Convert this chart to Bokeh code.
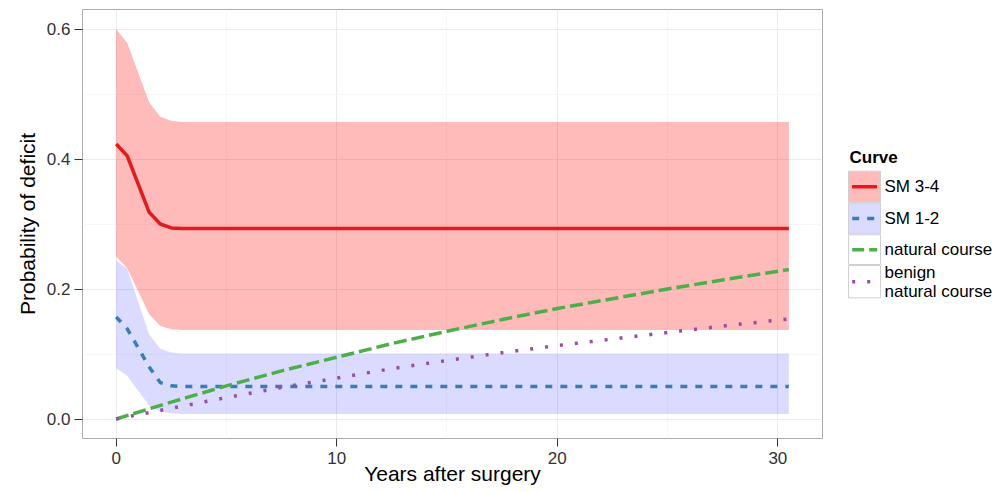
from bokeh.plotting import figure
from bokeh.models import Range1d, FixedTicker, PrintfTickFormatter
from bokeh.layouts import row
from bokeh.embed import file_html
from bokeh.resources import INLINE
from bokeh.core.properties import value

# ---------------- data ----------------
t_sm = [0, 0.5, 1.5, 2, 2.5, 3, 30.5]
sm34 = [0.423, 0.405, 0.318, 0.300, 0.294, 0.293, 0.293]
sm34_lo = [0.250, 0.232, 0.161, 0.143, 0.138, 0.137, 0.137]
sm34_hi = [0.600, 0.579, 0.487, 0.465, 0.459, 0.457, 0.457]
sm12 = [0.157, 0.139, 0.080, 0.056, 0.051, 0.050, 0.050]
sm12_lo = [0.078, 0.0665, 0.0204, 0.0113, 0.0087, 0.0077, 0.0077]
sm12_hi = [0.244, 0.231, 0.130, 0.1085, 0.1024, 0.1008, 0.1008]

t_nat = [0, 2.5, 5, 7.5, 10, 12.5, 15, 17.5, 20, 22.5, 25, 27.5, 30.5]
natural = [0, 0.026, 0.051, 0.074, 0.095, 0.116, 0.135, 0.153, 0.170, 0.185, 0.200, 0.214, 0.230]
benign = [0, 0.0165, 0.033, 0.0485, 0.063, 0.0775, 0.090, 0.102, 0.113, 0.123, 0.133, 0.143, 0.154]

x_ticks = [0, 10, 20, 30]
x_minor = [5, 15, 25]
y_ticks = [0.0, 0.2, 0.4, 0.6]
y_minor = [0.1, 0.3, 0.5]

legend_title = "Curve"
legend_labels = ["SM 3-4", "SM 1-2", "natural course", ["benign", "natural course"]]

x_label = "Years after surgery"
y_label = "Probability of deficit"

# ---------------- style ----------------
FONT = "Liberation Sans"
RED = "#e41a1c"
BLUE = "#377eb8"
GREEN = "#4daf4a"
PURPLE = "#984ea3"
RED_FILL, RED_ALPHA = "#ff0000", 0.27
BLUE_FILL, BLUE_ALPHA = "#0000ff", 0.14
LW = 3.5
DASH_BLUE = "7 8"
DASH_GREEN = "13 5"
DASH_PURPLE = "3 12"

FIG_H = 489
FRAME_TOP = 9
FRAME_BOTTOM = 438

p = figure(width=838, height=FIG_H,
           x_range=Range1d(-1.525, 32.025), y_range=Range1d(-0.03, 0.63),
           output_backend="svg", toolbar_location=None,
           min_border_left=82, min_border_right=16, min_border_top=FRAME_TOP, min_border_bottom=0,
           background_fill_color="white", border_fill_color="white",
           outline_line_color="#ababab", outline_line_width=1)

p.varea(x=t_sm, y1=sm34_lo, y2=sm34_hi, fill_color=RED_FILL, fill_alpha=RED_ALPHA)
p.varea(x=t_sm, y1=sm12_lo, y2=sm12_hi, fill_color=BLUE_FILL, fill_alpha=BLUE_ALPHA)
p.line(t_sm, sm34, line_color=RED, line_width=LW)
p.line(t_sm, sm12, line_color=BLUE, line_width=LW, line_dash=DASH_BLUE)
p.line(t_nat, natural, line_color=GREEN, line_width=LW, line_dash=DASH_GREEN)
p.line(t_nat, benign, line_color=PURPLE, line_width=LW, line_dash=DASH_PURPLE)

p.xaxis.ticker = FixedTicker(ticks=x_ticks, minor_ticks=x_minor)
p.yaxis.ticker = FixedTicker(ticks=y_ticks, minor_ticks=y_minor)
p.yaxis.formatter = PrintfTickFormatter(format="%.1f")
for g in (p.xgrid, p.ygrid):
    g.grid_line_color = "#ebebeb"
    g.grid_line_width = 1
    g.minor_grid_line_color = "#f7f7f7"
    g.minor_grid_line_width = 1

for ax in (p.xaxis, p.yaxis):
    ax.axis_line_color = None
    ax.major_tick_line_color = "#333333"
    ax.major_tick_line_width = 1
    ax.major_tick_out = 8
    ax.major_tick_in = 0
    ax.minor_tick_line_color = None
    ax.major_label_text_font = FONT
    ax.major_label_text_font_size = "17px"
    ax.major_label_text_color = "#333333"
    ax.axis_label_text_font = FONT
    ax.axis_label_text_font_size = "21px"
    ax.axis_label_text_font_style = "normal"
    ax.axis_label_text_color = "#000000"

p.xaxis.axis_label = x_label
p.yaxis.axis_label = y_label
p.xaxis.major_label_standoff = 5
p.xaxis.axis_label_standoff = -5
p.yaxis.major_label_standoff = 4
p.yaxis.axis_label_standoff = 5

# ---------------- legend (separate panel; its frame is aligned with the main frame) ----------------
LEG_W = 162
leg = figure(width=LEG_W, height=FIG_H, x_range=Range1d(0, LEG_W),
             y_range=Range1d(FRAME_BOTTOM, FRAME_TOP),
             output_backend="svg", toolbar_location=None,
             x_axis_type=None, y_axis_type=None,
             min_border_left=0, min_border_right=0,
             min_border_top=FRAME_TOP, min_border_bottom=FIG_H - FRAME_BOTTOM,
             background_fill_color="white", border_fill_color="white",
             outline_line_color=None)
leg.grid.visible = False

key_left, key_right = 10, 42
key_tops = [170.7, 202.7, 234.3, 265.0]
key_bottoms = [201.7, 233.3, 264.0, 297.3]
key_fills = [RED_FILL, BLUE_FILL, "white", "white"]
key_alphas = [RED_ALPHA, BLUE_ALPHA, 1.0, 1.0]
leg.quad(left=[key_left] * 4, right=[key_right] * 4, top=key_tops, bottom=key_bottoms,
         fill_color="white", line_color=None)
leg.quad(left=[key_left] * 4, right=[key_right] * 4, top=key_tops, bottom=key_bottoms,
         fill_color=key_fills, fill_alpha=key_alphas,
         line_color="#d0d0d0", line_width=1)

mids = [(a + b) / 2 for a, b in zip(key_tops, key_bottoms)]
leg.line([13.5, 38.5], [mids[0], mids[0]], line_color=RED, line_width=LW)
leg.line([13.7, 37.5], [mids[1], mids[1]], line_color=BLUE, line_width=LW, line_dash=DASH_BLUE)
leg.line([13.7, 38.7], [mids[2], mids[2]], line_color=GREEN, line_width=LW, line_dash="12 5")
leg.line([13.7, 34.0], [mids[3], mids[3]], line_color=PURPLE, line_width=LW, line_dash="3 12")

leg.text(x=[11], y=[157], text=[legend_title], text_font=value(FONT),
         text_font_size="17px", text_font_style="bold", text_baseline="middle",
         text_color="#000000")
lab_x = 46
lab_texts = [legend_labels[0], legend_labels[1], legend_labels[2],
             legend_labels[3][0], legend_labels[3][1]]
lab_y = [mids[0], mids[1], mids[2], mids[3] - 9.5, mids[3] + 9.5]
leg.text(x=[lab_x] * 5, y=lab_y, text=lab_texts, text_font=value(FONT),
         text_font_size="17px", text_baseline="middle", text_color="#000000")

layout = row(p, leg)
open("out.html", "w").write(file_html(layout, INLINE))
